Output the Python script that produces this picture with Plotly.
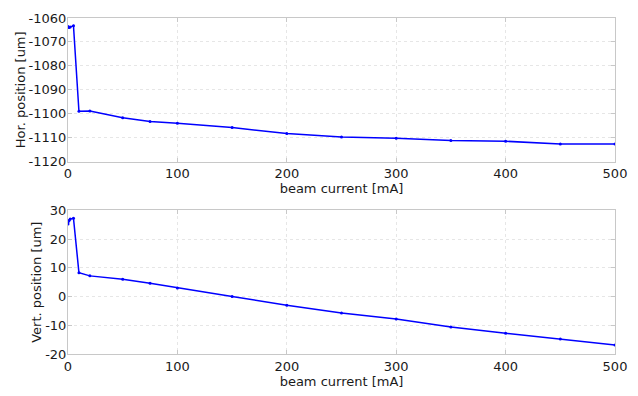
import plotly.graph_objects as go
from plotly.subplots import make_subplots

current = [0, 1, 2, 5, 10, 20, 50, 75, 100, 150, 200, 250, 300, 350, 400, 450, 500]
hor_pos = [-1063.5, -1064, -1063.8, -1063.2, -1099, -1098.9, -1101.7, -1103.2, -1104,
           -1105.8, -1108.3, -1109.7, -1110.2, -1111.2, -1111.5, -1112.6, -1112.6]
vert_pos = [25.3, 26.5, 27, 27.3, 8.3, 7.2, 6, 4.6, 3, 0, -3, -5.7, -7.8, -10.6,
            -12.8, -14.8, -16.9]

x_ticks = [0, 100, 200, 300, 400, 500]
hor_ticks = [-1120, -1110, -1100, -1090, -1080, -1070, -1060]
hor_labels = ["-1120", "-1110", "-1100", "-1090", "-1080", "-1070", "-1060"]
vert_ticks = [-20, -10, 0, 10, 20, 30]
vert_labels = ["-20", "-10", "0", "10", "20", "30"]

fig = make_subplots(rows=2, cols=1, vertical_spacing=0.145)
line = dict(color="#0000ff", width=1.5)
marker = dict(color="#0000ff", size=3)
fig.add_trace(go.Scatter(x=current, y=hor_pos, mode="lines+markers", line=line,
                         marker=marker, showlegend=False), row=1, col=1)
fig.add_trace(go.Scatter(x=current, y=vert_pos, mode="lines+markers", line=line,
                         marker=marker, showlegend=False), row=2, col=1)

font = dict(family="DejaVu Sans", size=13, color="#1a1a1a")
axis_common = dict(showline=True, linecolor="#c8c8c8", linewidth=1, mirror="ticks",
                   ticks="inside", ticklen=4, tickcolor="#c8c8c8",
                   showgrid=True, gridcolor="#e6e6e6", griddash="dot",
                   zeroline=False, tickfont=font, title_font=font)

fig.update_xaxes(range=[0, 500], tickvals=x_ticks,
                 title_text="beam current [mA]", title_standoff=2, **axis_common)
fig.update_yaxes(range=[-1120, -1060], tickvals=hor_ticks, ticktext=hor_labels,
                 title_text="Hor. position [um]", title_standoff=0,
                 ticklabelstandoff=-2, row=1, col=1, **axis_common)
fig.update_yaxes(range=[-20, 30], tickvals=vert_ticks, ticktext=vert_labels,
                 title_text="Vert. position [um]", title_standoff=0,
                 ticklabelstandoff=-2, row=2, col=1, **axis_common)
fig.update_layout(width=638, height=396, margin=dict(l=68, r=23, t=11, b=34),
                  plot_bgcolor="white", paper_bgcolor="white", font=font)
fig.update_yaxes(domain=[0.5726, 1], row=1, col=1)
fig.update_yaxes(domain=[0, 0.4274], row=2, col=1)
fig.write_html("out.html")
